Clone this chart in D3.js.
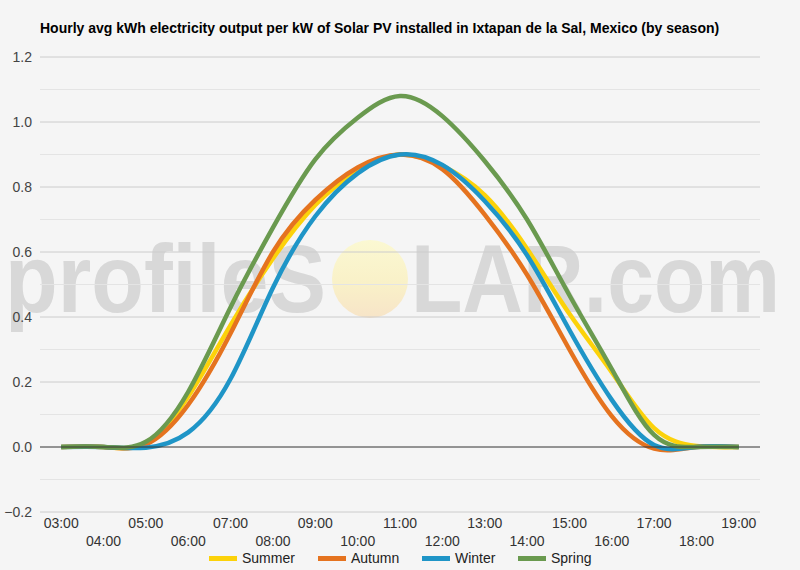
<!DOCTYPE html>
<html>
<head>
<meta charset="utf-8">
<script src="https://cdn.jsdelivr.net/npm/d3@7/dist/d3.min.js"></script>
<style>
  html, body { margin: 0; padding: 0; background: #f5f5f5; }
  svg { display: block; font-family: Arial, "Liberation Sans", sans-serif; }
</style>
</head>
<body>
<svg id="chart" width="800" height="570"></svg>
<script>
const hours = ["03:00","04:00","05:00","06:00","07:00","08:00","09:00","10:00","11:00","12:00","13:00","14:00","15:00","16:00","17:00","18:00","19:00"];
const seriesNames = ["Summer","Autumn","Winter","Spring"];
const seriesColors = ["#fcd20a","#e5731f","#1f95c7","#6a9a4f"];
const summer = [0, 0, 0.012, 0.155, 0.375, 0.58, 0.745, 0.85, 0.90, 0.865, 0.775, 0.61, 0.41, 0.23, 0.058, 0.003, 0];
const autumn = [0, 0, 0.008, 0.13, 0.35, 0.60, 0.76, 0.86, 0.90, 0.855, 0.715, 0.53, 0.30, 0.095, -0.005, 0, 0];
const winter = [0, 0, -0.002, 0.045, 0.21, 0.49, 0.71, 0.842, 0.90, 0.868, 0.757, 0.59, 0.36, 0.145, 0.006, 0, 0];
const spring = [0, 0, 0.016, 0.17, 0.43, 0.675, 0.885, 1.013, 1.08, 1.018, 0.88, 0.70, 0.467, 0.24, 0.037, 0, 0];
const yTicks = [-0.2, 0, 0.2, 0.4, 0.6, 0.8, 1.0, 1.2];
const yMinorTicks = [-0.1, 0.1, 0.3, 0.5, 0.7, 0.9, 1.1];
const titleText = "Hourly avg kWh electricity output per kW of Solar PV installed in Ixtapan de la Sal, Mexico (by season)";

const allSeries = [summer, autumn, winter, spring];

const svg = d3.select("#chart");
const plotLeft = 40, plotRight = 760, plotTop = 57, plotBottom = 512;

const x = d3.scaleBand().domain(hours).range([plotLeft, plotRight]);
const xc = d => x(d) + x.bandwidth() / 2;
const y = d3.scaleLinear().domain([-0.2, 1.2]).range([plotBottom, plotTop]);

// background
svg.append("rect").attr("width", 800).attr("height", 570).attr("fill", "#f5f5f5");

// watermark
const defs = svg.append("defs");
const grad = defs.append("linearGradient").attr("id", "sun").attr("x1", 0).attr("y1", 0).attr("x2", 0).attr("y2", 1);
grad.append("stop").attr("offset", "0%").attr("stop-color", "#fbf8d2");
grad.append("stop").attr("offset", "55%").attr("stop-color", "#f9f1c8");
grad.append("stop").attr("offset", "100%").attr("stop-color", "#f7e4c8");
const wm = svg.append("g").attr("class", "watermark");
wm.append("text").attr("x", 5).attr("y", 312).attr("font-size", 96).attr("font-weight", "bold")
  .attr("fill", "#d8d8d8").attr("textLength", 321).attr("lengthAdjust", "spacingAndGlyphs")
  .text("profileS");
wm.append("ellipse").attr("cx", 370).attr("cy", 279).attr("rx", 38).attr("ry", 39).attr("fill", "url(#sun)");
wm.append("text").attr("x", 411).attr("y", 312).attr("font-size", 96).attr("font-weight", "bold")
  .attr("fill", "#d8d8d8").attr("textLength", 369).attr("lengthAdjust", "spacingAndGlyphs")
  .text("LAR.com");

// title
svg.append("text").attr("x", 40).attr("y", 33).attr("font-size", 14).attr("font-weight", "bold")
  .attr("fill", "#000").text(titleText);

// gridlines
const grid = svg.append("g");
grid.selectAll("line.minor").data(yMinorTicks).join("line").attr("class", "minor")
  .attr("x1", plotLeft).attr("x2", plotRight).attr("y1", d => y(d)).attr("y2", d => y(d))
  .attr("stroke", "#e4e4e4").attr("stroke-width", 1);
grid.selectAll("line.major").data(yTicks.filter(d => d !== 0)).join("line").attr("class", "major")
  .attr("x1", plotLeft).attr("x2", plotRight).attr("y1", d => y(d)).attr("y2", d => y(d))
  .attr("stroke", "#cccccc").attr("stroke-width", 1);

// y axis labels
const yAxis = d3.axisLeft(y).tickValues(yTicks).tickFormat(d3.format(".1f")).tickSize(0).tickPadding(8);
const yg = svg.append("g").attr("transform", `translate(${plotLeft},0)`).call(yAxis);
yg.select(".domain").remove();
yg.selectAll("text").attr("font-size", 14).attr("fill", "#444").attr("font-family", "Arial, 'Liberation Sans', sans-serif");

// x axis labels (staggered)
const xAxis = d3.axisBottom(x).tickSize(0).tickPadding(0);
const xg = svg.append("g").attr("transform", `translate(0,${plotBottom})`).call(xAxis);
xg.select(".domain").remove();
xg.selectAll(".tick text")
  .attr("font-size", 14).attr("fill", "#333").attr("font-family", "Arial, 'Liberation Sans', sans-serif")
  .attr("dy", null)
  .attr("y", (d, i) => i % 2 === 0 ? 16 : 34);

// lines
const line = d3.line().x((d, i) => xc(hours[i])).y(d => y(d)).curve(d3.curveNatural);
svg.append("g").selectAll("path").data(allSeries).join("path")
  .attr("d", d => line(d)).attr("fill", "none")
  .attr("stroke", (d, i) => seriesColors[i]).attr("stroke-width", 4.5)
  .attr("stroke-linejoin", "round").attr("stroke-linecap", "butt");

// zero baseline
svg.append("line").attr("x1", plotLeft).attr("x2", plotRight).attr("y1", y(0)).attr("y2", y(0))
  .attr("stroke", "#333").attr("stroke-width", 1);

// legend
const legendX = [209, 318, 422, 518];
const lg = svg.append("g");
seriesNames.forEach((name, i) => {
  lg.append("rect").attr("x", legendX[i]).attr("y", 556).attr("width", 28).attr("height", 5)
    .attr("fill", seriesColors[i]);
  lg.append("text").attr("x", legendX[i] + 33).attr("y", 563).attr("font-size", 14)
    .attr("fill", "#222").text(name);
});
</script>
</body>
</html>
